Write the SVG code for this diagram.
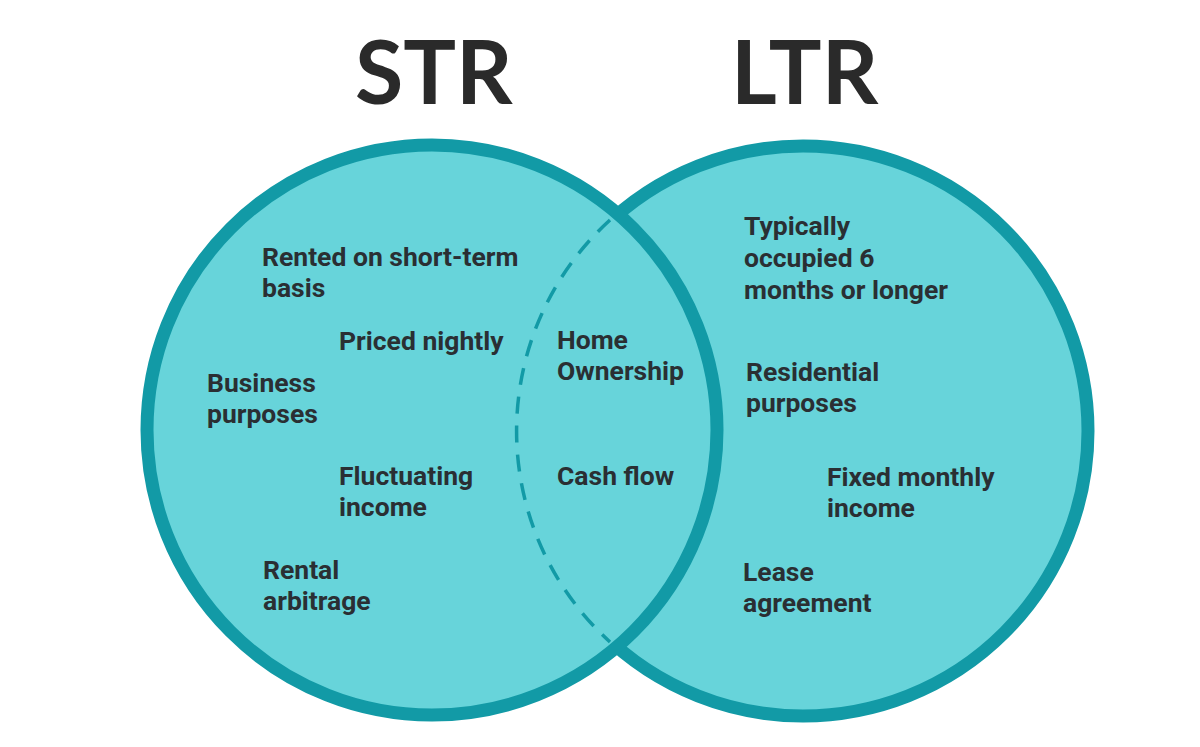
<svg xmlns="http://www.w3.org/2000/svg" width="1200" height="747" viewBox="0 0 1200 747">
<style>
.circ{fill:#67d4da;stroke:#129aa6;stroke-width:13}
.title{font-family:Lato,"Liberation Sans",sans-serif;font-weight:700;font-size:88px;fill:#2a2a2a}
.lbl{font-family:Roboto,"Liberation Sans",sans-serif;font-weight:700;font-size:26.5px;fill:#2a2f33}
.dash{fill:none;stroke:#129aa6;stroke-width:3.5;stroke-dasharray:17 12}
</style>
<rect width="1200" height="747" fill="#ffffff"/>
<g id="titles">
<text class="title" x="355" y="104">STR</text>
<text class="title" x="731" y="104">LTR</text>
</g>
<g id="ltr-circle"><circle class="circ" cx="803" cy="431" r="285"/></g>
<g id="str-circle"><circle class="circ" cx="432" cy="430" r="285"/></g>
<g id="connectors"><path class="dash" d="M 610 220 A 285 285 0 0 0 610 642"/></g>
<g id="str-items">
<text class="lbl" x="262" y="266"><tspan x="262">Rented on short-term</tspan><tspan x="262" dy="31">basis</tspan></text>
<text class="lbl" x="339" y="350">Priced nightly</text>
<text class="lbl" x="207" y="392"><tspan x="207">Business</tspan><tspan x="207" dy="31">purposes</tspan></text>
<text class="lbl" x="339" y="485"><tspan x="339">Fluctuating</tspan><tspan x="339" dy="31">income</tspan></text>
<text class="lbl" x="263" y="579"><tspan x="263">Rental</tspan><tspan x="263" dy="31">arbitrage</tspan></text>
</g>
<g id="shared-items">
<text class="lbl" x="557" y="349"><tspan x="557">Home</tspan><tspan x="557" dy="31">Ownership</tspan></text>
<text class="lbl" x="557" y="485">Cash flow</text>
</g>
<g id="ltr-items">
<text class="lbl" x="744" y="235"><tspan x="744">Typically</tspan><tspan x="744" dy="32">occupied 6</tspan><tspan x="744" dy="32">months or longer</tspan></text>
<text class="lbl" x="746" y="381"><tspan x="746">Residential</tspan><tspan x="746" dy="31">purposes</tspan></text>
<text class="lbl" x="827" y="486"><tspan x="827">Fixed monthly</tspan><tspan x="827" dy="31">income</tspan></text>
<text class="lbl" x="743" y="581"><tspan x="743">Lease</tspan><tspan x="743" dy="31">agreement</tspan></text>
</g>
</svg>
